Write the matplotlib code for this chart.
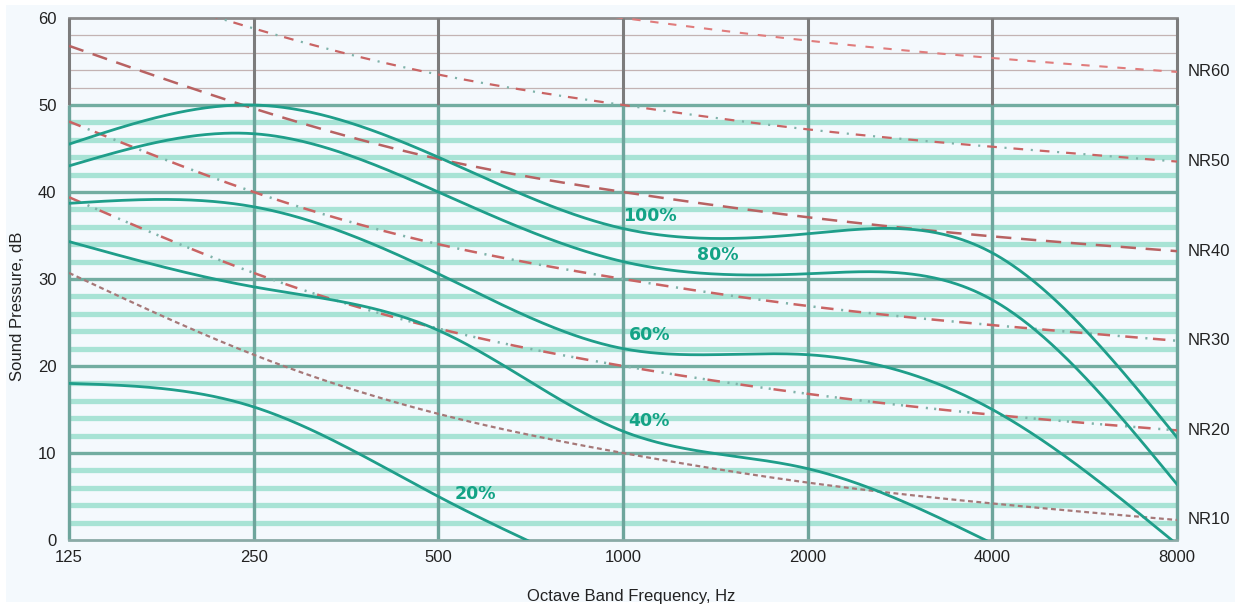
import numpy as np
import matplotlib
matplotlib.use("Agg")
import matplotlib.pyplot as plt
from matplotlib.patches import Rectangle

plt.rcParams['lines.scale_dashes'] = False
FONT = ['Liberation Sans Narrow', 'Liberation Sans', 'DejaVu Sans']

# ---------------- data ----------------
freqs = [125, 250, 500, 1000, 2000, 4000, 8000]
freq_labels = ['125', '250', '500', '1000', '2000', '4000', '8000']

nr10 = [30.7, 21.3, 14.5, 10.0, 6.6, 4.2, 2.3]
nr20 = [39.4, 30.7, 24.3, 20.0, 16.8, 14.4, 12.6]
nr30 = [48.1, 40.0, 34.0, 30.0, 26.9, 24.7, 22.9]
nr40 = [56.8, 49.6, 43.8, 40.0, 37.1, 34.9, 33.2]
nr50 = [65.5, 58.8, 53.5, 50.0, 47.2, 45.2, 43.5]
nr60 = [74.2, 68.1, 63.2, 60.0, 57.4, 55.4, 53.8]
nr_names = ['NR10', 'NR20', 'NR30', 'NR40', 'NR50', 'NR60']

speed_100 = [45.5, 50.0, 44.0, 35.8, 35.2, 33.0, 11.8]
speed_80 = [43.0, 46.7, 40.0, 32.0, 30.6, 27.6, 6.4]
speed_60 = [38.7, 38.3, 30.6, 22.0, 21.3, 15.0, -0.5]
speed_40 = [34.3, 29.1, 24.1, 12.5, 8.2, -0.4, np.nan]
speed_20 = [18.0, 15.3, 5.0, -5.0, np.nan, np.nan, np.nan]
speed_names = ['100%', '80%', '60%', '40%', '20%']


def spline(xp, yp, xs):
    xp = np.asarray(xp, float); yp = np.asarray(yp, float)
    ok = np.isfinite(yp); xp = xp[ok]; yp = yp[ok]
    n = len(xp); h = np.diff(xp)
    A = np.zeros((n, n)); b = np.zeros(n)
    A[0, 0] = 1; A[-1, -1] = 1
    for i in range(1, n - 1):
        A[i, i - 1] = h[i - 1]; A[i, i] = 2 * (h[i - 1] + h[i]); A[i, i + 1] = h[i]
        b[i] = 6 * ((yp[i + 1] - yp[i]) / h[i] - (yp[i] - yp[i - 1]) / h[i - 1])
    M = np.linalg.solve(A, b)
    xs = xs[(xs >= xp[0]) & (xs <= xp[-1])]
    idx = np.clip(np.searchsorted(xp, xs) - 1, 0, n - 2)
    x0 = xp[idx]; x1 = xp[idx + 1]; hh = x1 - x0
    ys = (M[idx] * (x1 - xs) ** 3 / (6 * hh) + M[idx + 1] * (xs - x0) ** 3 / (6 * hh)
          + (yp[idx] / hh - M[idx] * hh / 6) * (x1 - xs)
          + (yp[idx + 1] / hh - M[idx + 1] * hh / 6) * (xs - x0))
    return xs, ys


W, H = 1235, 605
fig = plt.figure(figsize=(W / 100, H / 100), dpi=100, facecolor='white')
fig.patches.append(Rectangle((6 / W, 3 / H), 1 - 6 / W, 1 - 8 / H, transform=fig.transFigure,
                             facecolor='#f4f9fd', edgecolor='none', zorder=-10))
ax = fig.add_axes([69 / W, 1 - 540 / H, (1177 - 69) / W, (540 - 18) / H])
ax.set_facecolor('#f4f9fd')

xpos = np.log2(np.array(freqs) / 125.0)
xs_dense = np.linspace(0, 6, 600)

# ---- grid ----
for v in range(2, 50, 2):
    if v % 10 == 0:
        ax.axhline(v, color='#72ada1', lw=2.4, zorder=1)
    else:
        ax.axhline(v, color='#a8e3d5', lw=3.8, zorder=1)
ax.axhline(50, color='#72ada1', lw=2.4, zorder=1)
for v in range(52, 60, 2):
    ax.axhline(v, color='#c3b3b3', lw=0.9, zorder=1)
ax.axhline(60, color='#8c8c8c', lw=2.0, zorder=1, clip_on=False)
for xp in xpos:
    ax.plot([xp, xp], [50, 60], color='#7c7c7c', lw=2.2, zorder=2, clip_on=False,
            solid_capstyle='butt')
    ax.plot([xp, xp], [0, 50], color='#6ea59c', lw=2.4, zorder=2, clip_on=False,
            solid_capstyle='butt')
ax.axhline(0, color='#8aaaa6', lw=2.0, zorder=2, clip_on=False)

# ---- NR curves ----
nr_sets = [nr10, nr20, nr30, nr40, nr50, nr60]
red = '#c96464'
dots = '#7fb3aa'
styles = {
    'NR10': [('#a67878', (0, (3.5, 2.5)), 1.6)],
    'NR20': [(red, (0, (9, 15)), 1.8), (dots, (9.5, (1.5, 22.5)), 1.8), (dots, (3.5, (1.5, 22.5)), 1.8)],
    'NR30': [(red, (0, (9, 11)), 1.8), (dots, (5.5, (1.5, 18.5)), 1.8)],
    'NR40': [('#b86262', (0, (11, 7)), 1.8)],
    'NR50': [(red, (0, (7, 12)), 1.6), (dots, (6.5, (1.5, 17.5)), 1.6)],
    'NR60': [('#e07c7c', (0, (6, 7)), 1.5)],
}
for name, vals in zip(nr_names, nr_sets):
    xs, ys = spline(xpos, vals, xs_dense)
    for col, ls, lw in styles[name]:
        ax.plot(xs, ys, color=col, ls=ls, lw=lw, zorder=3)
    ax.text(6.06, vals[-1], name, fontsize=12, family=FONT, color='#222222',
            va='center', ha='left', clip_on=False)

# ---- speed curves ----
teal = '#1f9e8a'
for vals in [speed_100, speed_80, speed_60, speed_40, speed_20]:
    xs, ys = spline(xpos, vals, xs_dense)
    ax.plot(xs, ys, color=teal, lw=2.0, zorder=4)

lab_pos = [(3.0, 37.2), (3.40, 32.8), (3.03, 23.6), (3.03, 13.7), (2.09, 5.3)]
for name, (lx, ly) in zip(speed_names, lab_pos):
    ax.text(lx, ly, name, fontsize=12.5, fontweight='bold', color='#14a386',
            family=['DejaVu Sans'], va='center', ha='left', zorder=5)

ax.set_xlim(0, 6)
ax.set_ylim(0, 60)
ax.set_xticks(xpos)
ax.set_xticklabels(freq_labels)
ax.set_yticks([0, 10, 20, 30, 40, 50, 60])
ax.tick_params(length=0, labelsize=12, colors='#222222')
ax.tick_params(axis='y', pad=9)
ax.tick_params(axis='x', pad=7)
for lbl in ax.get_xticklabels() + ax.get_yticklabels():
    lbl.set_family(FONT)
for s in ax.spines.values():
    s.set_visible(False)

fig.text(18 / W, 1 - 306 / H, 'Sound Pressure, dB', rotation=90, fontsize=12, family=FONT,
         color='#222222', ha='center', va='center')
fig.text(631 / W, 1 - 597 / H, 'Octave Band Frequency, Hz', fontsize=12, family=FONT,
         color='#222222', ha='center', va='center')

fig.savefig('out.png', dpi=100, facecolor='white')
